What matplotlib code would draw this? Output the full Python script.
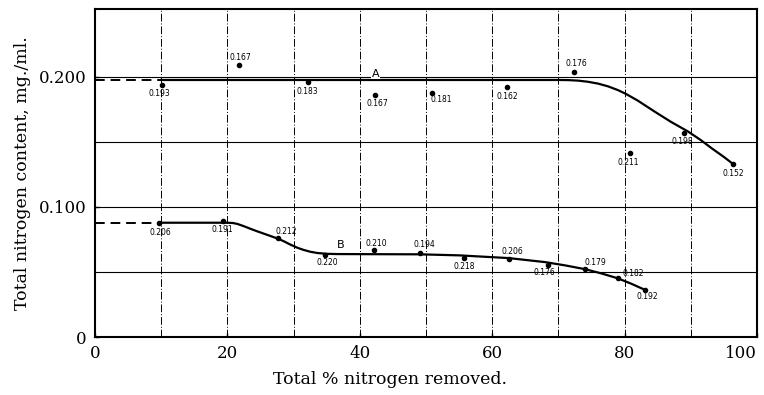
import matplotlib
matplotlib.use("Agg")
import matplotlib.pyplot as plt

# ---- data ----
a_pts_x = [10.1, 21.8, 32.1, 42.3, 50.9, 62.3, 72.4, 80.8, 89.0, 96.4]
a_pts_y = [0.194, 0.209, 0.1964, 0.186, 0.188, 0.192, 0.204, 0.1418, 0.157, 0.133]
a_labels = ["0.193", "0.167", "0.183", "0.167", "0.181", "0.162", "0.176", "0.211", "0.198", "0.152"]

b_pts_x = [9.6, 19.3, 27.6, 34.8, 42.1, 49.1, 55.8, 62.5, 68.4, 74.0, 79.0, 83.1]
b_pts_y = [0.0874, 0.0895, 0.0759, 0.0631, 0.0669, 0.0649, 0.0605, 0.0597, 0.0554, 0.052, 0.0451, 0.0362]
b_labels = ["0.206", "0.191", "0.212", "0.220", "0.210", "0.194", "0.218", "0.206", "0.176", "0.179", "0.182", "0.192"]

curve_a_x = [10, 70, 71.5, 73, 74.5, 76, 77.5, 79, 80.2, 82, 84.5, 87, 89.6, 91.5, 93.2, 95, 96.4]
curve_a_y = [0.1977, 0.1977, 0.1976, 0.1972, 0.1963, 0.1949, 0.1928, 0.1899, 0.1870, 0.1818, 0.1735,
             0.1655, 0.158, 0.1515, 0.145, 0.1385, 0.133]
curve_a_ext_x = [0, 10]
curve_a_ext_y = [0.1977, 0.1977]

curve_b_x = [10, 20, 20.8, 21.5, 22.5, 23.5, 24.5, 25.5, 26.5, 27.6, 28.5, 29.5, 30.6, 31.5, 32.5,
             33.6, 35, 36.5, 42, 49, 55, 62.5, 68, 71, 74, 76.5, 79, 81, 83.1]
curve_b_y = [0.0879, 0.0879, 0.0877, 0.0870, 0.0852, 0.0832, 0.0813, 0.0795, 0.0777, 0.0757, 0.0737,
             0.0711, 0.0686, 0.0670, 0.0656, 0.0646, 0.0640, 0.0638, 0.0637, 0.0636, 0.0628, 0.0607,
             0.0576, 0.0551, 0.0522, 0.0489, 0.0451, 0.0410, 0.0362]
curve_b_ext_x = [0, 10]
curve_b_ext_y = [0.0879, 0.0879]

x_ticks = [0, 20, 40, 60, 80, 100]
x_grid = [10, 20, 30, 40, 50, 60, 70, 80, 90]
y_ticks = [0, 0.1, 0.2]
y_tick_labels = ["0", "0.100", "0.200"]
y_grid = [0.05, 0.10, 0.15, 0.20]

# label offsets in pixels (dx, dy)
a_offsets = [(-2, -9), (1, 8), (0, -10), (2, -8), (9, -7), (0, -9), (2, 8), (-2, -10), (-2, -9), (0, -9)]
b_offsets = [(2, -9), (0, -9), (9, 7), (2, -8), (3, 7), (4, 8), (0, -8), (4, 8), (-3, -8), (10, 7), (15, 5), (2, -7)]

fig = plt.figure(figsize=(7.64, 3.95), dpi=100)
ax = fig.add_axes([95 / 764, 1 - 337 / 395, 662 / 764, 328 / 395])
ax.set_xlim(0, 100)
ax.set_ylim(0, 0.2523)

for gx in x_grid:
    ax.axvline(gx, color="black", lw=0.7, ls=(0, (8, 2, 1, 2)), zorder=1)
for gy in y_grid:
    ax.axhline(gy, color="black", lw=0.8, ls="-", zorder=1)

ax.plot(curve_a_x, curve_a_y, color="black", lw=1.6, zorder=3)
ax.plot(curve_a_ext_x, curve_a_ext_y, color="black", lw=1.4, ls=(0, (5, 3)), zorder=3)
ax.plot(curve_b_x, curve_b_y, color="black", lw=1.6, zorder=3)
ax.plot(curve_b_ext_x, curve_b_ext_y, color="black", lw=1.4, ls=(0, (5, 3)), zorder=3)

ax.plot(a_pts_x, a_pts_y, "o", color="black", ms=3, zorder=4)
ax.plot(b_pts_x, b_pts_y, "o", color="black", ms=3, zorder=4)

for x, y, t, (dx, dy) in zip(a_pts_x, a_pts_y, a_labels, a_offsets):
    ax.annotate(t, (x, y), xytext=(dx, dy), textcoords="offset pixels",
                ha="center", va="center", fontsize=5.5, family="DejaVu Sans", zorder=5)
for x, y, t, (dx, dy) in zip(b_pts_x, b_pts_y, b_labels, b_offsets):
    ax.annotate(t, (x, y), xytext=(dx, dy), textcoords="offset pixels",
                ha="center", va="center", fontsize=5.5, family="DejaVu Sans", zorder=5)

ax.text(42.4, 0.2025, "A", ha="center", va="center", fontsize=8, family="DejaVu Sans",
        bbox=dict(facecolor="white", edgecolor="none", pad=0.5), zorder=5)
ax.text(37.1, 0.0705, "B", ha="center", va="center", fontsize=8, family="DejaVu Sans", zorder=5)

ax.set_xticks(x_ticks)
ax.set_xticklabels([str(v) for v in x_ticks], family="DejaVu Serif", fontsize=12)
ax.get_xticklabels()[-1].set_horizontalalignment("right")
ax.set_yticks(y_ticks)
ax.set_yticklabels(y_tick_labels, family="DejaVu Serif", fontsize=12)
ax.tick_params(direction="in", length=3, width=1, pad=6)

for s in ax.spines.values():
    s.set_linewidth(1.5)

ax.set_ylabel("Total nitrogen content, mg./ml.", family="DejaVu Serif", fontsize=12.5, labelpad=6)
ax.set_xlabel("Total % nitrogen removed.", family="DejaVu Serif", fontsize=12.5, labelpad=1)
ax.xaxis.set_label_coords(0.445, -0.105)

fig.savefig("out.png", dpi=100)
